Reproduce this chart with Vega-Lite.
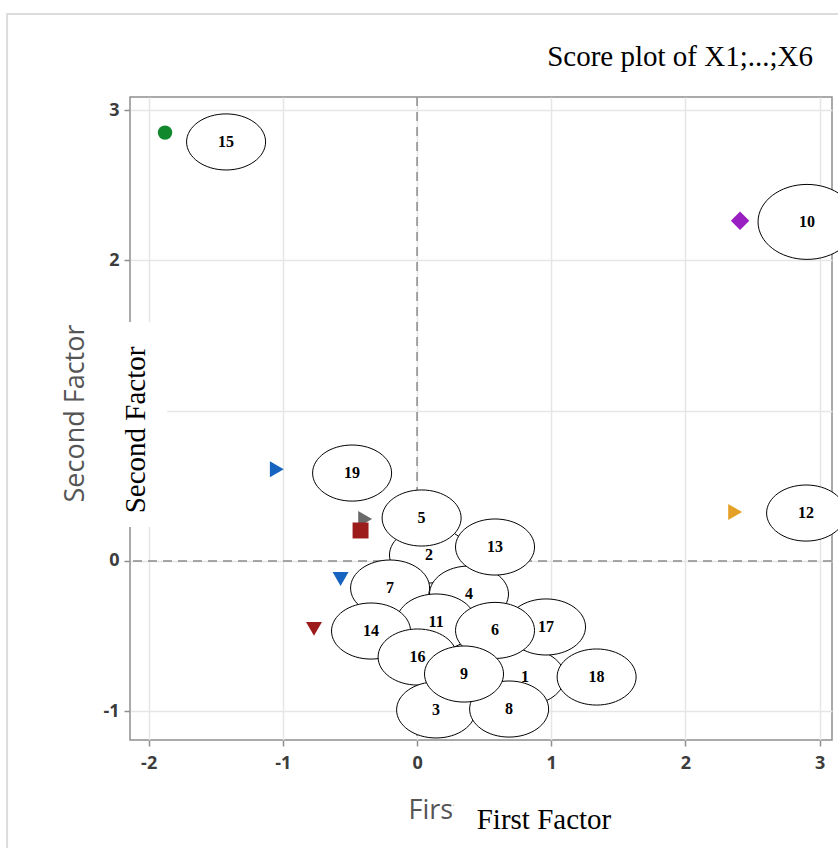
{
  "$schema": "https://vega.github.io/schema/vega-lite/v6.json",
  "width": 702,
  "height": 643,
  "autosize": {"type": "none"},
  "padding": {"left": 130, "top": 97, "right": 6, "bottom": 108},
  "background": "white",
  "title": {
    "text": "Score plot of X1;...;X6",
    "anchor": "end",
    "frame": "group",
    "font": "Liberation Serif",
    "fontSize": 29,
    "fontWeight": "normal",
    "color": "#000000",
    "baseline": "alphabetic",
    "offset": -82,
    "dx": -19
  },
  "config": {
    "view": {"stroke": "#8f8f8f", "strokeWidth": 1.5},
    "axis": {
      "grid": true,
      "gridColor": "#e6e6e6",
      "gridWidth": 1.5,
      "domain": false,
      "tickColor": "#8f8f8f",
      "tickWidth": 1.5,
      "tickSize": 6,
      "labelFont": "Open Sans",
      "labelFontSize": 18,
      "labelFontWeight": "bold",
      "labelColor": "#3c3c3c",
      "labelFlush": false,
      "titleFont": "Open Sans",
      "titleFontSize": 27,
      "titleFontWeight": "normal",
      "titleColor": "#555555"
    }
  },
  "datasets": {
    "markers": [
      {"group": "15", "x": -1.878, "y": 2.850},
      {"group": "10", "x": 2.407, "y": 2.264},
      {"group": "12", "x": 2.370, "y": 0.326},
      {"group": "19", "x": -1.045, "y": 0.610},
      {"group": "5", "x": -0.387, "y": 0.279},
      {"group": "2", "x": -0.421, "y": 0.203},
      {"group": "7", "x": -0.570, "y": -0.120},
      {"group": "14", "x": -0.768, "y": -0.452}
    ],
    "labels": [
      {"id": "1", "x": 0.805, "y": -0.772},
      {"id": "2", "x": 0.089, "y": 0.040},
      {"id": "17", "x": 0.961, "y": -0.439},
      {"id": "18", "x": 1.338, "y": -0.772},
      {"id": "4", "x": 0.387, "y": -0.220},
      {"id": "13", "x": 0.581, "y": 0.093},
      {"id": "5", "x": 0.034, "y": 0.286},
      {"id": "7", "x": -0.201, "y": -0.180},
      {"id": "11", "x": 0.142, "y": -0.406},
      {"id": "14", "x": -0.343, "y": -0.466},
      {"id": "6", "x": 0.581, "y": -0.462},
      {"id": "16", "x": 0.004, "y": -0.639},
      {"id": "3", "x": 0.142, "y": -0.991},
      {"id": "8", "x": 0.686, "y": -0.985},
      {"id": "9", "x": 0.350, "y": -0.752},
      {"id": "15", "x": -1.423, "y": 2.788},
      {"id": "12", "x": 2.899, "y": 0.319},
      {"id": "19", "x": -0.484, "y": 0.585},
      {"id": "10", "x": 2.906, "y": 2.256}
    ]
  },
  "layer": [
    {
      "data": {"name": "markers"},
      "transform": [{"filter": "datum.group != '15' && datum.group != '10'"}],
      "mark": {"type": "point", "filled": true, "opacity": 1, "size": 255},
      "encoding": {
        "x": {
          "field": "x",
          "type": "quantitative",
          "scale": {"domain": [-2.139, 3.092], "nice": false, "zero": false},
          "axis": {
            "values": [-2, -1, 0, 1, 2, 3],
            "labelExpr": "datum.value + ''",
            "labelPadding": 8,
            "titleX": 278,
            "titleY": 78,
            "titleAlign": "left",
            "titleBaseline": "alphabetic"
          },
          "title": "First Factor"
        },
        "y": {
          "field": "y",
          "type": "quantitative",
          "scale": {"domain": [-1.191, 3.087], "nice": false, "zero": false},
          "axis": {
            "values": [-1, 0, 1, 2, 3],
            "labelExpr": "datum.value + ''",
            "labelPadding": 5,
            "titleX": -47,
            "titleY": 316,
            "titleAlign": "center",
            "titleAngle": 270,
            "titleBaseline": "alphabetic"
          },
          "title": "Second Factor"
        },
        "shape": {
          "field": "group",
          "type": "nominal",
          "scale": {
            "domain": ["15", "10", "12", "19", "5", "2", "7", "14"],
            "range": ["circle", "diamond", "triangle-right", "triangle-right", "triangle-right", "square", "triangle-down", "triangle-down"]
          },
          "legend": null
        },
        "color": {
          "field": "group",
          "type": "nominal",
          "scale": {
            "domain": ["15", "10", "12", "19", "5", "2", "7", "14"],
            "range": ["#12882c", "#9a1fc2", "#e5a127", "#1664c0", "#6a6a6a", "#9c1c1c", "#1664c0", "#9c1c1c"]
          },
          "legend": null
        }
      }
    },
    {
      "data": {"name": "markers"},
      "transform": [{"filter": "datum.group == '15'"}],
      "mark": {"type": "point", "filled": true, "opacity": 1, "size": 210},
      "encoding": {
        "x": {"field": "x", "type": "quantitative"},
        "y": {"field": "y", "type": "quantitative"},
        "shape": {"field": "group", "type": "nominal", "legend": null},
        "color": {"field": "group", "type": "nominal", "legend": null}
      }
    },
    {
      "data": {"name": "markers"},
      "transform": [{"filter": "datum.group == '10'"}],
      "mark": {"type": "point", "filled": true, "opacity": 1, "size": 340},
      "encoding": {
        "x": {"field": "x", "type": "quantitative"},
        "y": {"field": "y", "type": "quantitative"},
        "shape": {"field": "group", "type": "nominal", "legend": null},
        "color": {"field": "group", "type": "nominal", "legend": null}
      }
    },
    {
      "data": {"values": [{}]},
      "mark": {"type": "rect", "filled": false, "stroke": "#dcdcdc", "strokeWidth": 2},
      "encoding": {
        "x": {"datum": -3.055},
        "x2": {"datum": 4.5},
        "y": {"datum": 3.639},
        "y2": {"datum": -2.6}
      }
    },
    {
      "data": {"values": [{}]},
      "mark": {"type": "rule", "color": "#8c8c8c", "strokeDash": [9, 6], "strokeWidth": 1.5},
      "encoding": {"x": {"datum": 0}}
    },
    {
      "data": {"values": [{}]},
      "mark": {"type": "rule", "color": "#8c8c8c", "strokeDash": [9, 6], "strokeWidth": 1.5},
      "encoding": {"y": {"datum": 0}}
    },
    {
      "data": {"name": "labels"},
      "transform": [{"filter": "datum.id != '10'"}],
      "mark": {
        "type": "point",
        "shape": "M-1,0C-1,-0.392,-0.552,-0.71,0,-0.71C0.552,-0.71,1,-0.392,1,0C1,0.392,0.552,0.71,0,0.71C-0.552,0.71,-1,0.392,-1,0Z",
        "filled": true,
        "fill": "white",
        "stroke": "black",
        "strokeWidth": 1,
        "opacity": 1,
        "size": 6241
      },
      "encoding": {
        "x": {"field": "x", "type": "quantitative"},
        "y": {"field": "y", "type": "quantitative"}
      }
    },
    {
      "data": {"name": "labels"},
      "transform": [{"filter": "datum.id == '10'"}],
      "mark": {
        "type": "point",
        "shape": "M-1,0C-1,-0.423,-0.552,-0.765,0,-0.765C0.552,-0.765,1,-0.423,1,0C1,0.423,0.552,0.765,0,0.765C-0.552,0.765,-1,0.423,-1,0Z",
        "filled": true,
        "fill": "white",
        "stroke": "black",
        "strokeWidth": 1,
        "opacity": 1,
        "size": 9604
      },
      "encoding": {
        "x": {"field": "x", "type": "quantitative"},
        "y": {"field": "y", "type": "quantitative"}
      }
    },
    {
      "data": {"name": "labels"},
      "mark": {
        "type": "text",
        "font": "Liberation Serif",
        "fontWeight": "bold",
        "fontSize": 16,
        "align": "center",
        "baseline": "middle",
        "color": "black"
      },
      "encoding": {
        "x": {"field": "x", "type": "quantitative"},
        "y": {"field": "y", "type": "quantitative"},
        "text": {"field": "id"}
      }
    },
    {
      "data": {"values": [{}]},
      "mark": {"type": "rect", "fill": "white", "strokeWidth": 0},
      "encoding": {
        "x": {"datum": -2.4},
        "x2": {"datum": -1.863},
        "y": {"datum": 1.590},
        "y2": {"datum": 0.226}
      }
    },
    {
      "data": {"values": [{}]},
      "mark": {"type": "rect", "fill": "white", "strokeWidth": 0},
      "encoding": {
        "x": {"datum": 0.276},
        "x2": {"datum": 1.617},
        "y": {"datum": -1.49},
        "y2": {"datum": -1.95}
      }
    },
    {
      "data": {"values": [{"t": "Second Factor"}]},
      "mark": {
        "type": "text",
        "font": "Liberation Serif",
        "fontSize": 29,
        "angle": 270,
        "align": "center",
        "baseline": "alphabetic",
        "color": "black"
      },
      "encoding": {
        "x": {"datum": -2.027},
        "y": {"datum": 0.872},
        "text": {"field": "t"}
      }
    },
    {
      "data": {"values": [{"t": "First Factor"}]},
      "mark": {
        "type": "text",
        "font": "Liberation Serif",
        "fontSize": 29,
        "align": "center",
        "baseline": "alphabetic",
        "color": "black"
      },
      "encoding": {
        "x": {"datum": 0.946},
        "y": {"datum": -1.783},
        "text": {"field": "t"}
      }
    }
  ]
}
